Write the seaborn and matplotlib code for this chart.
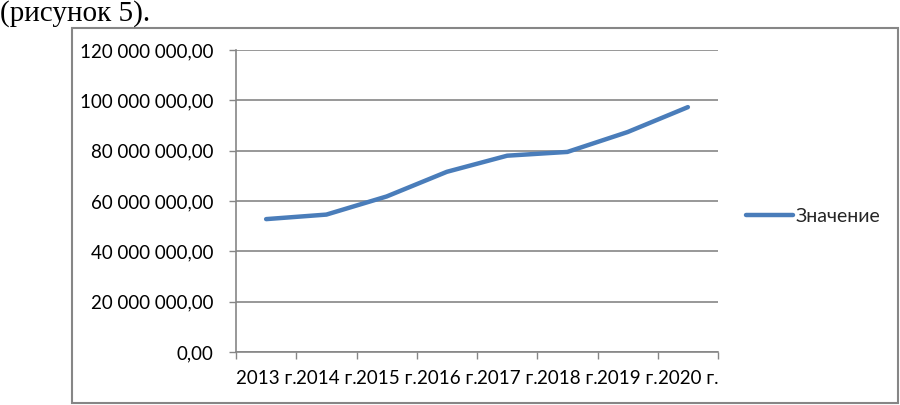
import matplotlib
matplotlib.use("Agg")
import matplotlib.pyplot as plt
from matplotlib.patches import Rectangle
from matplotlib.ticker import FuncFormatter, FixedLocator
import seaborn as sns
import pandas as pd

years = ["2013 г.", "2014 г.", "2015 г.", "2016 г.", "2017 г.", "2018 г.", "2019 г.", "2020 г."]
values = [52.8e6, 54.6e6, 61.8e6, 71.6e6, 78.0e6, 79.5e6, 87.4e6, 97.3e6]
series_name = "Значение"
y_ticks = [0, 20e6, 40e6, 60e6, 80e6, 100e6, 120e6]

sns.set_theme(style="white")
plt.rcParams['font.family'] = ['Lato', 'DejaVu Sans']

fig = plt.figure(figsize=(9, 4.05), dpi=100)
W, H = 900, 405
ax = fig.add_axes([236 / W, 1 - 352 / H, (718 - 236) / W, (352 - 50) / H])

df = pd.DataFrame({"pos": range(len(years)), "value": values})
sns.lineplot(data=df, x="pos", y="value", ax=ax, color="#4A7DBA", linewidth=3.2,
             label=series_name, solid_capstyle="round")

gray = "#868686"
ax.set_xlim(-0.5, len(years) - 0.5)
ax.set_ylim(0, 120e6)
ax.set_yticks(y_ticks)
ax.yaxis.set_major_formatter(FuncFormatter(
    lambda v, p: f"{v:,.2f}".replace(",", " ").replace(".", ",")))
ax.grid(axis="y", color=gray, linewidth=1.2)
ax.set_axisbelow(True)

# category boundaries as ticks, labels at centers
ax.xaxis.set_major_locator(FixedLocator([i - 0.5 for i in range(len(years) + 1)]))
ax.xaxis.set_major_formatter(FuncFormatter(lambda v, p: ""))
ax.set_xticks(list(range(len(years))), minor=True)
ax.set_xticklabels(years, minor=True)
ax.tick_params(axis="x", which="major", length=5, color=gray, width=1, direction="out", bottom=True)
ax.tick_params(axis="x", which="minor", length=0, pad=13, labelsize=13.5, labelcolor="black")
ax.tick_params(axis="y", length=5, color=gray, width=1, direction="out", left=True, pad=11,
               labelsize=13.5, labelcolor="black")

for s in ["top", "right"]:
    ax.spines[s].set_visible(False)
for s in ["left", "bottom"]:
    ax.spines[s].set_color(gray)
    ax.spines[s].set_linewidth(1.2)

ax.set_xlabel("")
ax.set_ylabel("")

leg = ax.legend(loc="center left", bbox_to_anchor=(746 / W, 1 - 216 / H),
                bbox_transform=fig.transFigure, frameon=False, fontsize=14,
                handlelength=2.4, handletextpad=0.15, borderpad=0, borderaxespad=0)

# chart border
fig.patches.append(Rectangle((72 / W, 1 - 403 / H), (898 - 72) / W, (403 - 28) / H,
                             transform=fig.transFigure, fill=False,
                             edgecolor=gray, linewidth=1.5))

fig.text(0 / W, 1 - 21 / H, "(рисунок 5).", family=["Liberation Serif"], fontsize=21,
         ha="left", va="baseline", color="black")

fig.savefig("out.png", dpi=100)
